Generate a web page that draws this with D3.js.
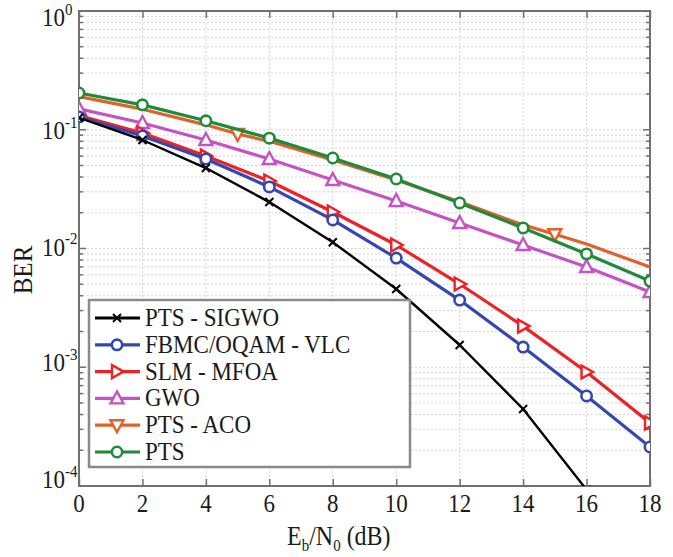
<!DOCTYPE html>
<html><head><meta charset="utf-8">
<script src="https://cdn.jsdelivr.net/npm/d3@7"></script>
<style>body{margin:0;background:#fff}svg{display:block}</style>
</head><body>
<svg id="c" width="673" height="557"></svg>
<script>
// ---- data ----
const xEven = [0,2,4,6,8,10,12,14,16,18];
const seriesNames = ["PTS - SIGWO","FBMC/OQAM - VLC","SLM - MFOA","GWO","PTS - ACO","PTS"];
const sigwo = [0.126,0.082,0.0476,0.0246,0.0113,0.00456,0.00154,0.000445,0.000093];
const sigwoX = [0,2,4,6,8,10,12,14,16];
const fbmc  = [0.128,0.0886,0.0567,0.033,0.0174,0.0083,0.00368,0.00148,0.000573,0.000213];
const slm   = [0.132,0.094,0.060,0.037,0.0203,0.0107,0.00502,0.00222,0.000912,0.00034];
const gwo   = [0.150,0.114,0.082,0.0567,0.0377,0.0251,0.0164,0.0107,0.00698,0.0043];
const acoX  = [0,2,4,5,6,8,10,12,14,15,16,18];
const aco   = [0.190,0.149,0.110,0.092,0.080,0.0556,0.0377,0.0247,0.0158,0.0132,0.0109,0.00698];
const acoMarkX = [5,15];
const pts   = [0.204,0.162,0.119,0.085,0.0578,0.0385,0.0242,0.0149,0.009,0.00532];
const xTicks = [0,2,4,6,8,10,12,14,16,18];
const yTickExp = [0,-1,-2,-3,-4];

const colors = ["#000000","#3447b0","#ec2227","#c553c4","#e0622a","#1e8a3a"];
const markers = ["x","circle","right","up","down","circle"];

const svg = d3.select("#c");
const L=79,R=650,T=11,B=486;
const x = d3.scaleLinear().domain([0,18]).range([L,R]);
const y = d3.scaleLog().domain([1e-4,1]).range([B,T]);
const font = "'Liberation Serif','Times New Roman',serif";
const SY = 1.12; // vertical glyph stretch seen in reference

function txt(parent,px,py,size,anchor){
  return parent.append("text")
    .attr("transform",`translate(${px},${py}) scale(1,${SY})`)
    .attr("text-anchor",anchor||"start")
    .attr("font-family",font).attr("font-size",size).attr("fill","#1a1a1a");
}

// grid
const g = svg.append("g");
const minorY = [];
for (let e=-4;e<0;e++) for (let k=1;k<10;k++) minorY.push(k*Math.pow(10,e));
minorY.push(1);
g.selectAll(".gy").data(minorY).enter().append("line")
  .attr("x1",L).attr("x2",R).attr("y1",d=>y(d)).attr("y2",d=>y(d))
  .attr("stroke","#d4d4d4").attr("stroke-width",1).attr("stroke-dasharray","2,2");
g.selectAll(".gx").data(xTicks).enter().append("line")
  .attr("y1",T).attr("y2",B).attr("x1",d=>x(d)).attr("x2",d=>x(d))
  .attr("stroke","#d4d4d4").attr("stroke-width",1).attr("stroke-dasharray","2,2");

// axes (inward ticks)
const axCol="#707070";
const axB = d3.axisTop(x).tickValues(xTicks).tickSize(7).tickFormat("");
const axT = d3.axisBottom(x).tickValues(xTicks).tickSize(7).tickFormat("");
svg.append("g").attr("transform",`translate(0,${B})`).call(axB);
svg.append("g").attr("transform",`translate(0,${T})`).call(axT);
function yTicks(xpos,dir){
  const gg=svg.append("g");
  gg.selectAll("line").data(minorY).enter().append("line")
   .attr("x1",xpos).attr("x2",d=>xpos+dir*(Math.abs(Math.log10(d)-Math.round(Math.log10(d)))<1e-9?7:4))
   .attr("y1",d=>y(d)).attr("y2",d=>y(d)).attr("stroke",axCol).attr("stroke-width",1.5);
}
yTicks(L,1); yTicks(R,-1);
svg.selectAll(".domain").remove();
svg.selectAll(".tick line").attr("stroke",axCol).attr("stroke-width",1.5);
svg.append("rect").attr("x",L).attr("y",T).attr("width",R-L).attr("height",B-T)
  .attr("fill","none").attr("stroke",axCol).attr("stroke-width",2);

// tick labels
xTicks.forEach(d=>{ txt(svg,x(d),512,23,"middle").text(d); });
const yOff=[15,9,7,4,2];
yTickExp.forEach((d,i)=>{
  const t=txt(svg,42,y(Math.pow(10,d))+yOff[i],23);
  t.append("tspan").text("10");
  t.append("tspan").attr("dy",-10).attr("font-size",15).text(d===0?"0":"-"+(-d));
});

// axis labels
const xlab = txt(svg,287,545,24);
xlab.append("tspan").text("E");
xlab.append("tspan").attr("font-size",15).attr("dy",5).text("b");
xlab.append("tspan").attr("dy",-5).text("/N");
xlab.append("tspan").attr("font-size",15).attr("dy",5).text("0");
xlab.append("tspan").attr("dy",-5).text(" (dB)");
svg.append("text").attr("transform","translate(32,270) rotate(-90) scale(1,1.05)")
  .attr("text-anchor","middle").attr("font-family",font).attr("font-size",25)
  .attr("fill","#1a1a1a").text("BER");

// clip
svg.append("clipPath").attr("id","clip").append("rect")
  .attr("x",L).attr("y",T).attr("width",R-L).attr("height",B-T);
const plot = svg.append("g").attr("clip-path","url(#clip)");

function drawMarker(sel,type,color,cx,cy){
  if(type==="x"){
    sel.append("path").attr("d",`M${cx-4},${cy-4}L${cx+4},${cy+4}M${cx-4},${cy+4}L${cx+4},${cy-4}`)
      .attr("stroke",color).attr("stroke-width",2);
  } else if(type==="circle"){
    sel.append("circle").attr("cx",cx).attr("cy",cy).attr("r",5.2)
      .attr("fill","#fff").attr("stroke",color).attr("stroke-width",2.6);
  } else {
    let pts;
    if(type==="right") pts=[[cx-5,cy-6.5],[cx+6.5,cy],[cx-5,cy+6.5]];
    if(type==="up") pts=[[cx,cy-7],[cx+6.5,cy+5],[cx-6.5,cy+5]];
    if(type==="down") pts=[[cx,cy+7],[cx+6.5,cy-5],[cx-6.5,cy-5]];
    sel.append("path").attr("d","M"+pts.map(p=>p.join(",")).join("L")+"Z")
      .attr("fill","#fff").attr("stroke",color).attr("stroke-width",2.4).attr("stroke-linejoin","miter");
  }
}

const line = d3.line().x(d=>x(d[0])).y(d=>y(d[1]));
const data = [
  {xs:sigwoX, ys:sigwo, mx:sigwoX},
  {xs:xEven, ys:fbmc, mx:xEven},
  {xs:xEven, ys:slm, mx:xEven},
  {xs:xEven, ys:gwo, mx:xEven},
  {xs:acoX, ys:aco, mx:acoMarkX},
  {xs:xEven, ys:pts, mx:xEven}
];
const order=[4,3,5,2,1,0];
order.forEach(i=>{
  const s=data[i];
  const pairs=s.xs.map((v,j)=>[v,s.ys[j]]);
  plot.append("path").datum(pairs).attr("d",line).attr("fill","none")
    .attr("stroke",colors[i]).attr("stroke-width",i===0?2.4:3.2).attr("stroke-linejoin","round");
  const mg=plot.append("g");
  pairs.filter(p=>s.mx.includes(p[0])).forEach(p=>drawMarker(mg,markers[i],colors[i],x(p[0]),y(p[1])));
});

// legend
const lg = svg.append("g");
lg.append("rect").attr("x",89).attr("y",300).attr("width",321).attr("height",167)
  .attr("fill","#fff").attr("stroke","#8a8a8a").attr("stroke-width",2.5);
seriesNames.forEach((n,i)=>{
  const cy=318+i*26.8;
  lg.append("line").attr("x1",95).attr("x2",140).attr("y1",cy).attr("y2",cy)
    .attr("stroke",colors[i]).attr("stroke-width",3.2);
  drawMarker(lg,markers[i],colors[i],117,cy);
  txt(lg,145,cy+8,23).text(n);
});
</script>
</body></html>
